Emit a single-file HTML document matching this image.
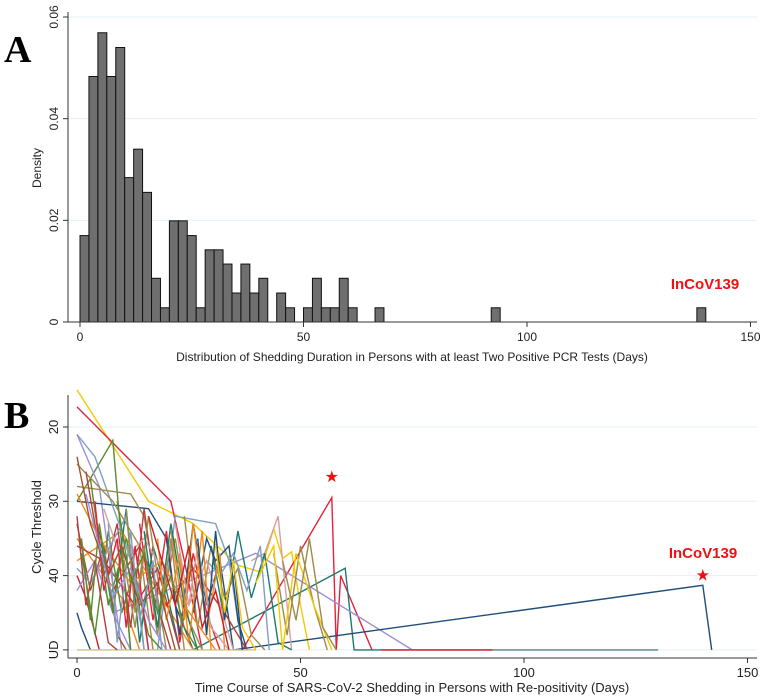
<!DOCTYPE html>
<html><head><meta charset="utf-8"><style>
body{margin:0;background:#fff;}
svg{display:block;font-family:"Liberation Sans",sans-serif;}
</style></head><body>
<svg id="chart" width="767" height="698" viewBox="0 0 767 698"></svg>
<script>
// Panel A data
const binStarts=[0,2,4,6,8,10,12,14,16,18,20,22,24,26,28,30,32,34,36,38,40,44,46,48,50,52,54,56,58,60,66,92,138];
const densities=[0.017,0.0483,0.0569,0.0483,0.054,0.0284,0.034,0.0255,0.0086,0.0028,0.0199,0.0199,0.017,0.0028,0.0142,0.0142,0.0114,0.0057,0.0114,0.0057,0.0086,0.0057,0.0028,0,0.0028,0.0086,0.0028,0.0028,0.0086,0.0028,0.0028,0.0028,0.0028];
const aXTicks=[0,50,100,150];
const aYTicks=[0,0.02,0.04,0.06];
const aYLabels=["0","0.02","0.04","0.06"];
// Panel B data (UD coded as 50)
const bXTicks=[0,50,100,150];
const bYTicks=[20,30,40,50];
const bYLabels=["20","30","40","UD"];
const seriesDays=[
[0,16,26,36,41,44,46,48,50,52],
[0,21,24,28],
[37,57,58,59,66],
[0,8,12],
[26,60,62,130],
[0,5,10],
[8,40,75],
[35,140,142],
[0,16,20,22,26],
[0,4,10,14,16],
[18,22,31,34,37],
[39,42,45,48],
[0,8,14,17],
[0,12,15,20],
[0,10,20,26],
[0,6,10,14],
[0,2,5],
[0,3,6,9,11],
[1,4,7,10,13,15],
[2,6,9,12,15,18,21],
[5,8,11,14,17,20,23],
[10,13,16,19,22,25,28],
[14,17,20,23,26,29,32],
[20,23,26,29,32,35],
[24,27,30,33,36,39,42],
[30,33,36,39,42,45,48],
[44,47,50,53,56],
[0,3,11,15],
[0,6,13,18,23],
[0,4,8,12],
[3,7,11,16,19],
[26,29,31,34,36,38],
[29,32,35,38,41,43],
[0,5,12,19,24,31],
[8,14,20,26,33,38],
[40,44,46,49,53,57],
[0,1,3],
[21,24,26,29,32,33],
[6,10,15,20,25,29,35],
[0,40],
[68,93],
[93,130],
[0,2,4,7,9],
[1,3,5,8,10,12],
[4,6,9,11,13,16],
[7,9,12,14,17,19],
[11,13,15,18,21,24],
[15,18,21,24,27],
[18,20,23,25,28,30],
[22,25,27,30,34],
[27,29,31,33,35,37],
[31,33,35,37,40],
[0,3,7,10,14,18,22],
[2,5,8,12,16,20],
[9,12,15,18,21,24,27],
[16,19,22,25,28,31,34],
[46,49,52,55,58]
];
const seriesCt=[
[15,30,33,38.6,39.5,33.7,37.7,36.8,44,50],
[17.3,30,38,50],
[50,29.5,50,40,50],
[30,21.8,50],
[50,39,50,50],
[21,28,50],
[45,37,50],
[50,41.3,50],
[30,31,35,44,50],
[21,24,34,42,50],
[50,32,33,38,50],
[38,37,32,50],
[25,30,36,50],
[28,29,32,50],
[38,34,44,50],
[35,40,43,50],
[40,43,50],
[33,42,36,48,50],
[37,48,34,45,39,50],
[26,40,33,47,31,44,50],
[34,45,31,49,36,42,50],
[36,47,32,44,35,46,50],
[33,46,34,49,37,45,50],
[35,48,33,44,38,50],
[32,47,36,43,39,48,50],
[36,46,34,43,37,49,50],
[37,48,36,44,50],
[39,41,32,50],
[36,38,44,39,50],
[42,38,45,50],
[27,44,35,48,50],
[45,35,38,36,46,50],
[38,40,37,42,36,50],
[29,35,41,38,44,50],
[42,36,44,39,45,50],
[41,36,50,37,44,50],
[45,47,50],
[34,46,33,47,37,50],
[31,38,35,40,44,38,50],
[50,50],
[50,50],
[50,50],
[32,44,38,49,50],
[35,46,33,45,37,50],
[30,42,35,47,36,50],
[33,49,34,46,38,50],
[31,45,36,48,35,50],
[34,47,33,44,50],
[35,46,37,49,34,50],
[33,44,36,47,50],
[35,48,34,46,38,50],
[36,45,38,47,50],
[24,33,40,36,44,41,50],
[29,36,43,39,46,50],
[30,41,37,45,40,47,50],
[32,38,44,36,47,42,50],
[38,46,35,47,50]
];
const seriesColors=["#f5c800","#e8203a","#e8203a","#5b8a2e","#1b7a6e","#9a8fd8","#9a8fd8","#1f4e79","#1f4e79","#7f9fc0","#7f9fc0","#d4a0a0","#a08a4a","#a08a4a","#f08a1a","#f08a1a","#c8202a","#a0522d","#5b8a2e","#b04040","#1b7a6e","#a08a4a","#e8203a","#1f4e79","#a08a4a","#1b7a6e","#a08a4a","#7f9fc0","#b04040","#9a8fd8","#5b8a2e","#1f4e79","#7f9fc0","#f08a1a","#c0392b","#f5c800","#1f4e79","#f08a1a","#d4a0a0","#cfc48a","#e8203a","#6e9e94","#b04040","#5b8a2e","#e8203a","#7f9fc0","#a08a4a","#1b7a6e","#f08a1a","#d4a0a0","#1f4e79","#f5c800","#a0522d","#9a8fd8","#5b8a2e","#c8202a","#a08a4a"];

const NS="http://www.w3.org/2000/svg";
const svg=document.getElementById('chart');
function mk(t,a,parent){const e=document.createElementNS(NS,t);for(const k in a)e.setAttribute(k,a[k]);(parent||svg).appendChild(e);return e;}
// Panel A scales
const ax=d=>80+d*4.47;
const ay=v=>322-v*(305/0.06);
const gA=mk('g',{});


aYTicks.forEach((t,i)=>{
 if(t>0){const gl=mk('line',{x1:68,x2:757,y1:ay(t),y2:ay(t),stroke:'#e3f0f4','stroke-width':1},gA);}
 mk('line',{x1:63,x2:68,y1:ay(t),y2:ay(t),stroke:'#333'},gA);
 const tx=mk('text',{x:0,y:0,transform:`translate(58,${ay(t)}) rotate(-90)`,'text-anchor':'middle','font-size':12,fill:'#222'},gA);
 tx.textContent=aYLabels[i];
 
 
});
binStarts.forEach((b,i)=>{
 if(densities[i]<=0)return;
 const r=mk('rect',{x:ax(b),y:ay(densities[i]),width:ax(b+2)-ax(b),height:ay(0)-ay(densities[i]),fill:'#6f6f6f',stroke:'#111','stroke-width':1},gA);
 
 
});
mk('line',{x1:68,x2:68,y1:12,y2:322,stroke:'#333'},gA);
mk('line',{x1:68,x2:757,y1:322,y2:322,stroke:'#333'},gA);
aXTicks.forEach(t=>{
 mk('line',{x1:ax(t),x2:ax(t),y1:322,y2:327,stroke:'#333'},gA);
 const tx=mk('text',{x:ax(t),y:341,'text-anchor':'middle','font-size':12,fill:'#222'},gA);
 tx.textContent=t;
 
 
});
let t1=mk('text',{x:0,y:0,transform:'translate(41,168) rotate(-90)','text-anchor':'middle','font-size':12,fill:'#222'});t1.textContent='Density';


let t2=mk('text',{x:412,y:361,'text-anchor':'middle','font-size':12,fill:'#222'});t2.textContent='Distribution of Shedding Duration in Persons with at least Two Positive PCR Tests (Days)';


let t3=mk('text',{x:705,y:289,'text-anchor':'middle','font-size':15,'font-weight':'bold',fill:'#ee1111'});t3.textContent='InCoV139';


let pA=mk('text',{x:4,y:62,'font-size':38,'font-weight':'bold','font-family':'Liberation Serif, serif',fill:'#000'});pA.textContent='A';


// Panel B scales
const bx=d=>77+d*4.47;
const by=v=>427+(v-20)*7.43;
const gB=mk('g',{});


bYTicks.forEach((t,i)=>{
 const gl=mk('line',{x1:68,x2:757,y1:by(t),y2:by(t),stroke:'#e3f0f4','stroke-width':1},gB);
 
 
 mk('line',{x1:63,x2:68,y1:by(t),y2:by(t),stroke:'#333'},gB);
 const tx=mk('text',{x:0,y:0,transform:`translate(58,${by(t)}) rotate(-90)`,'text-anchor':'middle','font-size':13,fill:'#222'},gB);
 tx.textContent=bYLabels[i];
 
 
});
seriesDays.forEach((ds,i)=>{
 const pts=ds.map((d,j)=>bx(d).toFixed(1)+','+by(seriesCt[i][j]).toFixed(1)).join(' ');
 const p=mk('polyline',{points:pts,fill:'none',stroke:seriesColors[i%seriesColors.length],'stroke-width':1.4},gB);
 
 
});
mk('line',{x1:68,x2:68,y1:395,y2:658,stroke:'#333'},gB);
mk('line',{x1:68,x2:757,y1:658,y2:658,stroke:'#333'},gB);
bXTicks.forEach(t=>{
 mk('line',{x1:bx(t),x2:bx(t),y1:658,y2:663,stroke:'#333'},gB);
 const tx=mk('text',{x:bx(t),y:677,'text-anchor':'middle','font-size':13,fill:'#222'},gB);
 tx.textContent=t;
 
 
});
let t4=mk('text',{x:0,y:0,transform:'translate(41,527) rotate(-90)','text-anchor':'middle','font-size':13,fill:'#222'});t4.textContent='Cycle Threshold';


let t5=mk('text',{x:412,y:692,'text-anchor':'middle','font-size':13,fill:'#222'});t5.textContent='Time Course of SARS-CoV-2 Shedding in Persons with Re-positivity (Days)';


let s1=mk('text',{x:bx(57),y:by(26.7)+5,'text-anchor':'middle','font-size':16,fill:'#ee1111'});s1.textContent='★';


let s2=mk('text',{x:bx(140),y:by(40)+5,'text-anchor':'middle','font-size':16,fill:'#ee1111'});s2.textContent='★';


let t6=mk('text',{x:703,y:558,'text-anchor':'middle','font-size':15,'font-weight':'bold',fill:'#ee1111'});t6.textContent='InCoV139';


let pB=mk('text',{x:4,y:428,'font-size':38,'font-weight':'bold','font-family':'Liberation Serif, serif',fill:'#000'});pB.textContent='B';


</script>
</body></html>
